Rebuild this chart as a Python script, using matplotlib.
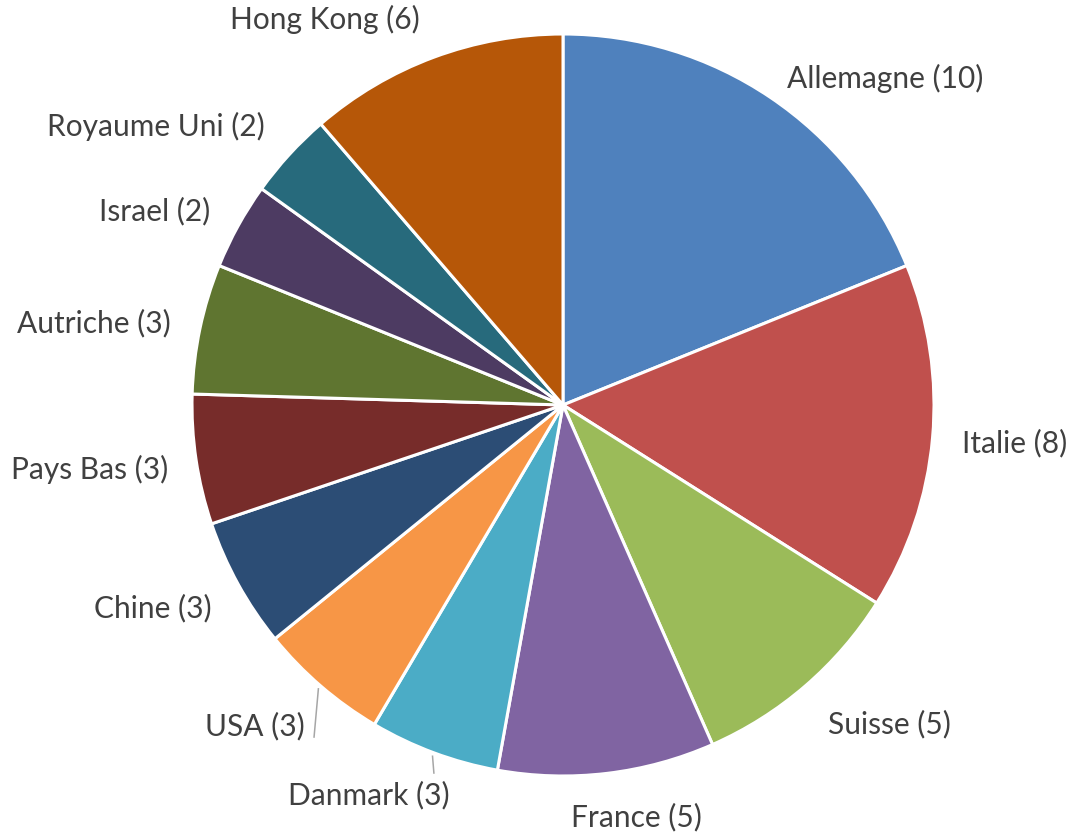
import numpy as np
import matplotlib.pyplot as plt

countries = ['Allemagne', 'Italie', 'Suisse', 'France', 'Danmark', 'USA',
             'Chine', 'Pays Bas', 'Autriche', 'Israel', 'Royaume Uni', 'Hong Kong']
counts = [10, 8, 5, 5, 3, 3, 3, 3, 3, 2, 2, 6]
colors = ['#4F81BD', '#C0504D', '#9BBB59', '#8064A2', '#4BACC6', '#F79646',
          '#2C4D75', '#772C2A', '#5F7530', '#4D3B62', '#276A7C', '#B65708']

# label centres, in units of the pie radius
label_x = [0.868, 1.218, 0.879, 0.197, -0.523, -0.830, -1.105, -1.275, -1.264, -1.100, -1.097, -0.642]
label_y = [0.881, -0.102, -0.860, -1.111, -1.051, -0.865, -0.547, -0.173, 0.221, 0.523, 0.752, 1.038]
# leader line ends for the small labels at the bottom
leaders = {'Danmark': (-0.348, -0.992), 'USA': (-0.671, -0.895)}

fig = plt.figure(figsize=(10.72, 8.34), dpi=100)
ax = fig.add_axes([0, 0, 1, 1])

wedges, _ = ax.pie(counts, colors=colors, startangle=90, counterclock=False,
                   radius=1.0, wedgeprops=dict(edgecolor='white', linewidth=2.2))

total = sum(counts)
cum = np.cumsum([0] + counts)
for i, name in enumerate(countries):
    ax.text(label_x[i], label_y[i], f'{name} ({counts[i]})', ha='center', va='center',
            fontsize=21.5, color='#404040', family=['Lato', 'DejaVu Sans'])
    if name in leaders:
        mid = np.deg2rad(90 - (cum[i] + counts[i] / 2) / total * 360)
        x0, y0 = 1.01 * np.cos(mid), 1.01 * np.sin(mid)
        x1, y1 = leaders[name]
        ax.plot([x0, x1], [y0, y1], color='#A6A6A6', lw=1.1)

ax.set_xlim(-563 / 371, (1072 - 563) / 371)
ax.set_ylim((405 - 834) / 371, 405 / 371)
ax.set_aspect('equal')
ax.axis('off')

fig.savefig('out.png', dpi=100)
